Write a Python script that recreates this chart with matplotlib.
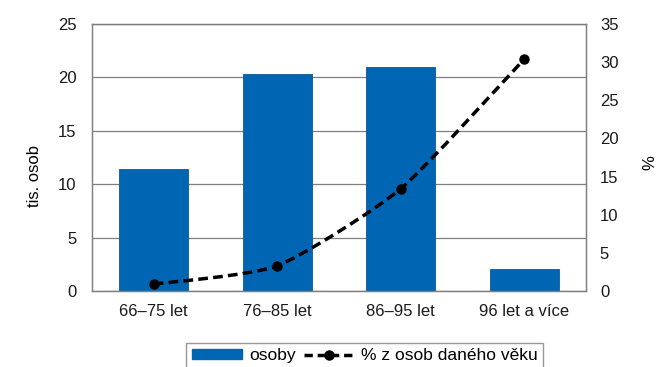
import numpy as np
import matplotlib.pyplot as plt
from matplotlib.path import Path
from matplotlib.patches import PathPatch
from matplotlib.lines import Line2D
from matplotlib.patches import Patch

plt.rcParams['font.family'] = ['Liberation Sans', 'DejaVu Sans']

categories = ['66–75 let', '76–85 let', '86–95 let', '96 let a více']
osoby = [11.4, 20.3, 21.0, 2.1]          # tis. osob
podil = [0.9, 3.3, 13.4, 30.4]           # % z osob daného věku

bar_color = '#0066B3'
grid_color = '#7f7f7f'
fs = 12

fig = plt.figure(figsize=(6.61, 3.67), dpi=100)
ax = fig.add_axes([92 / 661, 1 - 291 / 367, 494 / 661, 267 / 367])
ax2 = ax.twinx()

x = np.arange(len(categories))
ax.bar(x, osoby, width=0.56, color=bar_color, edgecolor='#0a5a9a', linewidth=0.6, zorder=2)
ax.set_xlim(-0.5, len(categories) - 0.5)
ax.set_ylim(0, 25)
ax.set_yticks(range(0, 26, 5))
ax.grid(axis='y', color=grid_color, linewidth=0.9, zorder=0)
ax.set_axisbelow(True)
ax.set_xticks(x)
ax.set_xticklabels(categories)
ax.tick_params(axis='both', length=0, labelsize=fs, colors='#1a1a1a')
ax.tick_params(axis='y', pad=11)
ax.tick_params(axis='x', pad=9)
ax.set_ylabel('tis. osob', fontsize=fs, va='center')
ax.yaxis.set_label_coords(-0.117, 0.43)

ax2.set_ylim(0, 35)
ax2.set_yticks(range(0, 36, 5))
ax2.tick_params(axis='y', length=0, labelsize=fs, colors='#1a1a1a', pad=10)
ax2.set_ylabel('%', fontsize=fs, va='center')
ax2.yaxis.set_label_coords(1.13, 0.48)

for a in (ax, ax2):
    for s in a.spines.values():
        s.set_color(grid_color)
        s.set_linewidth(0.9)

# gently smoothed line (cardinal spline -> cubic Bezier) through the data points
px = np.array(x, dtype=float)
py = np.array(podil, dtype=float)
pts = np.column_stack([px, py])
ext = np.vstack([pts[0], pts, pts[-1]])
k = 0.1
verts = [tuple(pts[0])]
codes = [Path.MOVETO]
for i in range(len(pts) - 1):
    p0, p1, p2, p3 = ext[i], ext[i + 1], ext[i + 2], ext[i + 3]
    c1 = p1 + (p2 - p0) * k
    c2 = p2 - (p3 - p1) * k
    verts += [tuple(c1), tuple(c2), tuple(p2)]
    codes += [Path.CURVE4] * 3
ax2.add_patch(PathPatch(Path(verts, codes), fill=False, edgecolor='black',
                        linewidth=2.5, linestyle=(0, (2.8, 1.5)), zorder=3))
ax2.plot(px, py, linestyle='none', marker='o', markersize=6.5, color='black', zorder=4)

handles = [
    Patch(facecolor=bar_color, edgecolor=bar_color),
    Line2D([], [], color='black', linewidth=2.5, linestyle=(0, (2.4, 1.4)),
           marker='o', markersize=6.5),
]
fig.legend(handles, ['osoby', '% z osob daného věku'], ncol=2,
           loc='upper center', bbox_to_anchor=(0.552, 0.065), borderaxespad=0,
           frameon=True, fancybox=False, edgecolor=grid_color, fontsize=12.5,
           handlelength=2.9, handleheight=0.5, columnspacing=0.5,
           handletextpad=0.4, borderpad=0.3)

fig.savefig('out.png', dpi=100)
